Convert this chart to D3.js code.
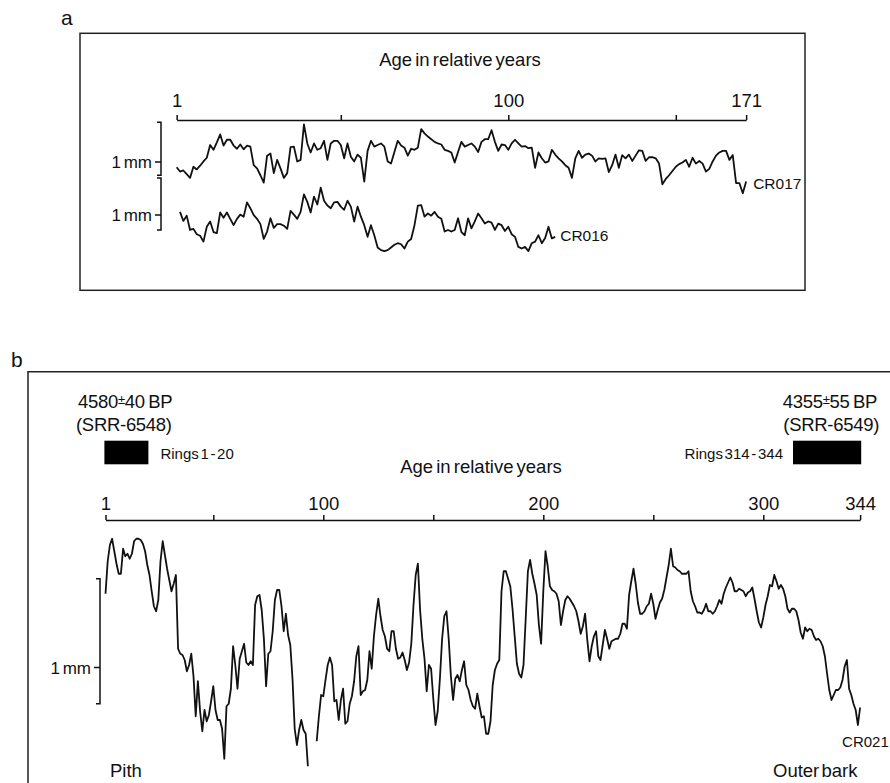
<!DOCTYPE html>
<html><head><meta charset="utf-8">
<script src="https://cdn.jsdelivr.net/npm/d3@7"></script>
<style>
body{margin:0;background:#fff;}
svg{display:block;font-family:"Liberation Sans",Arial,Helvetica,sans-serif;fill:#111;}
</style></head><body>
<svg id="chart" width="890" height="783"></svg>
<script>
// ---------------- DATA (ring widths, mm) ----------------
const cr017Start = 1;
const cr017 = [0.90,0.82,0.84,0.77,0.70,0.91,0.86,0.93,1.01,1.08,
1.32,1.23,1.37,1.52,1.31,1.42,1.42,1.31,1.25,1.33,
1.24,1.31,1.29,0.94,0.88,0.75,0.61,1.12,1.16,0.79,
1.04,0.88,0.70,0.79,1.28,1.29,1.01,1.04,1.71,1.35,
1.18,1.35,1.23,1.26,1.40,1.04,1.35,1.40,1.40,1.32,
1.07,1.35,1.10,1.01,1.14,1.08,0.63,1.21,1.40,1.29,
1.32,1.35,1.29,1.01,0.97,1.19,1.40,1.31,1.27,1.12,
1.25,1.23,1.27,1.62,1.54,1.48,1.43,1.38,1.35,1.33,
1.23,1.21,1.18,0.99,1.19,1.38,1.29,1.32,
1.35,1.29,1.19,1.38,1.43,1.43,1.60,1.38,1.21,1.33,
1.32,1.23,1.35,1.42,1.35,1.29,1.30,1.26,1.27,0.89,
1.18,1.07,0.99,1.01,1.23,1.14,1.07,1.01,0.94,0.89,
0.70,1.07,1.21,1.08,1.14,1.16,1.12,1.01,1.07,1.06,
1.07,0.81,0.94,1.14,0.89,1.13,1.07,1.14,1.02,1.12,
1.22,1.21,1.02,1.09,1.09,1.07,0.97,0.58,0.68,0.75,
0.83,0.91,0.96,0.99,1.04,0.91,1.08,0.97,1.02,0.97,
0.82,0.87,1.01,1.12,1.18,1.21,1.21,1.04,1.13,0.60,
0.60,0.41,0.63];

const cr016Start = 2;
const cr016 = [1.19,1.02,1.12,0.85,0.87,0.77,0.74,0.63,0.91,1.01,
0.81,0.79,1.18,1.08,1.18,1.06,0.94,1.06,1.14,1.10,
1.37,1.26,1.13,1.06,0.96,0.68,0.82,1.07,0.89,0.96,
0.96,0.93,0.87,1.21,1.14,1.06,1.19,1.52,1.38,1.18,
1.48,1.33,1.65,1.40,1.31,1.26,1.37,1.38,1.29,1.23,
1.40,1.29,1.01,1.29,1.10,0.94,0.72,0.94,0.75,0.52,
0.47,0.45,0.47,0.52,0.57,0.60,0.58,0.50,0.63,0.68,
0.94,1.31,1.32,1.10,1.16,1.12,1.19,1.10,1.06,0.82,
0.85,0.82,0.85,1.07,0.81,0.75,1.07,
0.88,1.01,1.16,1.07,0.97,1.01,0.99,0.85,0.97,0.94,
0.83,0.91,0.77,0.72,0.53,0.50,0.53,0.45,0.60,0.63,
0.75,0.60,0.70,0.91,0.69,0.72];

const cr021Start = 1;
const cr021 = [1.65,1.91,2.04,2.09,1.99,1.89,1.81,1.81,2.01,1.95,
1.97,1.93,1.97,2.07,2.09,2.09,2.08,2.05,1.99,1.88,
1.80,1.67,1.55,1.51,1.60,1.91,2.07,1.96,1.85,1.76,
1.67,1.73,1.80,1.21,1.17,1.16,1.12,1.03,1.08,1.17,
0.99,0.67,0.95,0.71,0.55,0.72,0.63,0.68,0.79,0.91,
0.72,0.64,0.64,0.57,0.33,0.75,0.77,0.89,1.23,1.08,
0.89,1.13,1.19,1.25,1.10,1.08,1.11,1.08,1.56,1.63,
1.64,1.52,1.29,0.91,1.17,1.19,1.35,1.60,1.68,1.68,
1.55,1.35,1.49,1.32,1.24,0.97,0.57,0.44,0.56,0.64,
0.56,0.53,0.27,null,null,null,0.47,0.67,0.84,0.83,
0.96,1.08,1.14,1.08,0.79,0.80,0.64,0.80,0.89,0.61,
0.63,0.77,0.83,0.95,1.15,1.23,0.84,0.87,0.88,0.96,
1.19,1.05,1.31,1.48,1.61,1.47,1.36,1.31,1.21,1.19,
1.35,1.35,1.21,1.13,1.14,1.18,1.12,1.04,1.10,1.25,
1.56,1.80,1.89,1.52,1.29,1.13,0.87,1.08,1.05,0.81,
0.60,0.71,0.97,1.29,1.47,1.51,1.29,0.99,0.80,0.97,
1.00,0.95,1.04,1.11,0.92,0.88,0.80,0.75,0.73,0.85,
0.75,0.66,0.67,0.53,0.53,0.63,0.92,1.04,1.09,1.12,
1.67,1.83,1.83,1.77,1.71,1.53,1.31,1.09,1.01,0.98,
1.08,1.45,1.83,1.92,1.81,1.73,1.64,1.40,1.25,1.67,
1.99,1.87,1.71,1.68,1.67,1.65,1.59,1.40,1.51,1.60,
1.63,1.61,1.58,1.55,1.51,1.43,1.33,1.39,1.49,1.28,
1.11,1.23,1.31,1.35,1.15,1.12,1.24,1.36,1.29,1.21,
1.27,1.28,1.29,1.29,1.33,1.41,1.41,1.37,1.64,1.75,
1.85,1.73,1.58,1.49,1.49,1.51,1.55,1.57,1.65,1.57,
1.45,1.52,1.58,1.61,1.68,1.78,1.88,2.01,1.87,1.86,
1.84,1.83,1.81,1.81,1.81,1.83,1.67,1.59,1.55,1.50,
1.50,1.49,1.52,1.57,1.51,1.51,1.49,1.51,1.55,1.60,
1.57,1.65,1.70,1.74,1.78,1.74,1.67,1.67,1.69,1.68,
1.67,1.63,1.66,1.67,1.70,1.61,1.51,1.42,1.38,1.46,
1.56,1.63,1.72,1.71,1.80,1.75,1.69,1.72,1.69,1.63,
1.53,1.50,1.53,1.53,1.51,1.44,1.34,1.29,1.38,1.35,
1.37,1.36,1.31,1.28,1.29,1.27,1.23,1.15,1.01,0.88,
0.80,0.84,0.88,0.88,0.90,0.96,1.07,1.12,0.89,0.84,
0.77,0.72,0.60,0.74];

const ticksA = [1, 50, 100, 150, 171];
const tickLabelsA = ["1", "", "100", "", "171"];
const ticksB = [1, 50, 100, 150, 200, 250, 300, 344];
const tickLabelsB = ["1", "", "100", "", "200", "", "300", "344"];
const axisTitle = "Age in relative years";
const datesAge = ["4580", "4355"];
const datesErr = ["40", "55"];
const datesLab = ["(SRR-6548)", "(SRR-6549)"];
const datesRings = [[1, 20], [314, 344]];

// ---------------- DRAWING ----------------
const svg = d3.select("#chart");
const ink = "#111";
const lw = 1.8;

function bracket(g, x, y0, y1, ytick, label) {
  const p = d3.path();
  p.moveTo(x - 4, y0); p.lineTo(x, y0); p.lineTo(x, y1); p.lineTo(x - 4, y1);
  p.moveTo(x - 6, ytick); p.lineTo(x, ytick);
  g.append("path").attr("d", p.toString()).attr("fill", "none")
    .attr("stroke", ink).attr("stroke-width", 1.5);
  g.append("text").attr("x", x - 9).attr("y", ytick).attr("dy", "0.36em")
    .attr("text-anchor", "end").attr("font-size", 17).style("word-spacing", "-2px").text(label);
}
function styleAxis(g) {
  g.selectAll("path.domain").attr("stroke", ink).attr("stroke-width", 1.7);
  g.selectAll(".tick line").attr("stroke", ink).attr("stroke-width", 1.5);
  g.selectAll(".tick text").attr("fill", ink).attr("font-size", 18.5)
    .attr("font-family", '"Liberation Sans",Arial,sans-serif');
}

// ===== Panel a =====
const ga = svg.append("g");
ga.append("rect").attr("x", 80).attr("y", 33.3).attr("width", 725).attr("height", 257)
  .attr("fill", "none").attr("stroke", "#222").attr("stroke-width", 1.5);
ga.append("text").attr("x", 61).attr("y", 25).attr("font-size", 21).text("a");

const xA = d3.scaleLinear().domain([1, 171]).range([176.65, 746.15]);
const yA017 = d3.scaleLinear().domain([0, 1]).range([215, 162]);
const yA016 = d3.scaleLinear().domain([0, 1]).range([275, 222]);

ga.append("text").attr("x", 460).attr("y", 65.5).attr("text-anchor", "middle")
  .attr("font-size", 18.5).style("word-spacing", "-2px").text(axisTitle);

const axA = ga.append("g").attr("transform", "translate(0,120)")
  .call(d3.axisTop(xA).tickValues(ticksA).tickFormat((d, i) => tickLabelsA[i])
    .tickSizeInner(5).tickSizeOuter(0).tickPadding(8.5));
styleAxis(axA);

const lineA = (start, y) => d3.line().defined(d => d != null)
  .x((d, i) => xA(start + i)).y(d => y(d));
ga.append("path").datum(cr017).attr("d", lineA(cr017Start, yA017))
  .attr("fill", "none").attr("stroke", ink).attr("stroke-width", lw).attr("stroke-linejoin", "round");
ga.append("path").datum(cr016).attr("d", lineA(cr016Start, yA016))
  .attr("fill", "none").attr("stroke", ink).attr("stroke-width", lw).attr("stroke-linejoin", "round");

bracket(ga, 161, yA017(1.75), yA017(0.75), yA017(1.0), "1 mm");
bracket(ga, 161, yA016(1.83), yA016(0.85), yA016(1.13), "1 mm");

ga.append("text").attr("x", xA(cr017Start + cr017.length - 1) + 7)
  .attr("y", yA017(cr017[cr017.length - 1]) + 2).attr("dy", "0.35em")
  .attr("font-size", 15.5).text("CR017");
ga.append("text").attr("x", xA(cr016Start + cr016.length - 1) + 5)
  .attr("y", yA016(cr016[cr016.length - 1]) - 1).attr("dy", "0.35em")
  .attr("font-size", 15.5).text("CR016");

// ===== Panel b =====
const gb = svg.append("g");
gb.append("path").attr("d", "M28,800 L28,371.7 L900,371.7")
  .attr("fill", "none").attr("stroke", "#222").attr("stroke-width", 1.5);
gb.append("text").attr("x", 11).attr("y", 367).attr("font-size", 21).text("b");

const xB = d3.scaleLinear().domain([1, 344]).range([105.5, 860.1]);
const yB = d3.scaleLinear().domain([0, 1]).range([800, 675]);

gb.append("text").attr("x", 481).attr("y", 473).attr("text-anchor", "middle")
  .attr("font-size", 18.5).style("word-spacing", "-2px").text(axisTitle);

const axB = gb.append("g").attr("transform", "translate(0,520)")
  .call(d3.axisTop(xB).tickValues(ticksB).tickFormat((d, i) => tickLabelsB[i])
    .tickSizeInner(5).tickSizeOuter(0).tickPadding(5.5));
styleAxis(axB);

gb.append("path").datum(cr021)
  .attr("d", d3.line().defined(d => d != null).x((d, i) => xB(cr021Start + i)).y(d => yB(d)))
  .attr("fill", "none").attr("stroke", ink).attr("stroke-width", lw).attr("stroke-linejoin", "round");

bracket(gb, 100, yB(1.77), yB(0.77), yB(1.06), "1 mm");

// radiocarbon dates
datesAge.forEach((age, k) => {
  const left = k === 0;
  const anchor = left ? "start" : "end";
  const tx = left ? 78 : 877;
  const t = gb.append("text").attr("x", tx).attr("y", 407.5).attr("text-anchor", anchor)
    .attr("font-size", 18.5).style("letter-spacing", "-0.3px");
  t.append("tspan").text(age);
  t.append("tspan").attr("font-size", 13).attr("dy", -4).text("±");
  t.append("tspan").attr("dy", 4).text(datesErr[k] + "\u2009BP");
  gb.append("text").attr("x", left ? 76 : 879).attr("y", 430.5).attr("text-anchor", anchor)
    .attr("font-size", 18.5).style("letter-spacing", "-0.3px").text(datesLab[k]);
  const r = datesRings[k];
  const x0 = xB(r[0] - 0.5), x1 = xB(r[1] + 0.5);
  gb.append("rect").attr("x", x0).attr("y", 440.7).attr("width", x1 - x0).attr("height", 23.6)
    .attr("fill", "#000");
  gb.append("text").attr("x", left ? x1 + 12 : x0 - 10).attr("y", 459)
    .attr("text-anchor", left ? "start" : "end").attr("font-size", 15)
    .style("word-spacing", "-2.5px").text("Rings " + r[0] + " - " + r[1]);
});

gb.append("text").attr("x", xB(344) - 18).attr("y", 747).attr("font-size", 15).text("CR021");
gb.append("text").attr("x", 110).attr("y", 777).attr("font-size", 18.5).text("Pith");
gb.append("text").attr("x", 773).attr("y", 777).attr("font-size", 18.5)
  .style("word-spacing", "-3px").text("Outer bark");
</script>
</body></html>
